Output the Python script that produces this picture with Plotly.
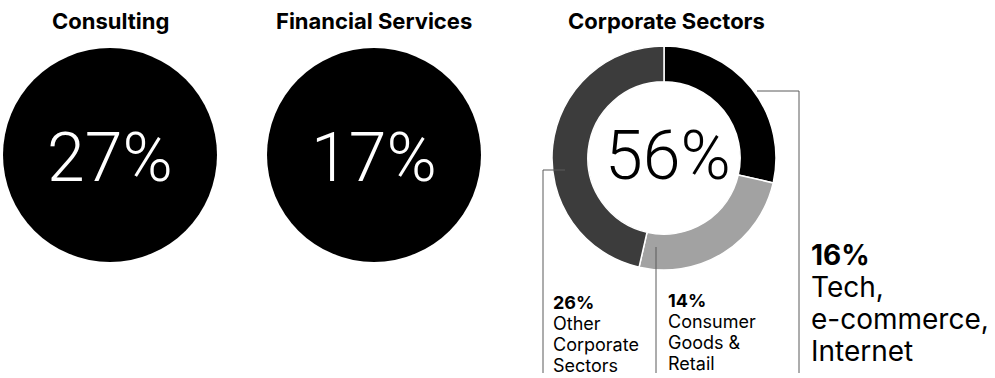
import plotly.graph_objects as go

# Shares of placements by sector
groups = ["Consulting", "Financial Services", "Corporate Sectors"]
group_shares = [27, 17, 56]

# Breakdown of the corporate share (clockwise from 12 o'clock)
corp_labels = ["Tech, e-commerce, Internet", "Consumer Goods & Retail", "Other Corporate Sectors"]
corp_shares = [16, 14, 26]
corp_colors = ["#000000", "#a2a2a2", "#3c3c3c"]

W, H = 995, 378
FONT = "Inter"
BIG_FONT = "Roboto"


def domain(cx, cy, r):
    """Pie domain in paper coords from a pixel centre and radius."""
    return dict(x=[(cx - r) / W, (cx + r) / W],
                y=[1 - (cy + r) / H, 1 - (cy - r) / H])


fig = go.Figure()

# Solid discs for the first two groups
disc_geom = [(110, 155, 107), (374, 155, 107)]
for name, share, (cx, cy, r) in zip(groups[:2], group_shares[:2], disc_geom):
    fig.add_trace(go.Pie(values=[share], labels=[name], marker=dict(colors=["#000000"], line=dict(width=0)),
                         textinfo="none", hoverinfo="label+value", sort=False,
                         domain=domain(cx, cy, r), showlegend=False))

# Donut for the corporate breakdown
dcx, dcy, dr = 664, 158, 112
fig.add_trace(go.Pie(values=corp_shares, labels=corp_labels, hole=0.68,
                     marker=dict(colors=corp_colors, line=dict(color="white", width=1.5)),
                     direction="clockwise", rotation=0, sort=False, textinfo="none",
                     hoverinfo="label+value", domain=domain(dcx, dcy, dr), showlegend=False))

# Pixel-space overlay axes for leader lines and labels
fig.update_layout(
    xaxis=dict(range=[0, W], visible=False, fixedrange=True),
    yaxis=dict(range=[H, 0], visible=False, fixedrange=True),
)

line_style = dict(color="#5a5a5a", width=1)
leaders = [
    [(757, 91), (799, 91), (799, 373)],   # tech
    [(656, 247), (656, 373)],             # consumer
    [(565, 170), (543, 170), (543, 373)], # other
]
for pts in leaders:
    path = "M " + " L ".join(f"{x},{y}" for x, y in pts)
    fig.add_shape(type="path", path=path, xref="x", yref="y", line=line_style)

fig.add_trace(go.Scatter(x=[656, 565], y=[247, 170], mode="markers",
                         marker=dict(size=3, color="#000000"), hoverinfo="skip", showlegend=False))

# Group titles
title_x = [110, 374, 666]
for name, x in zip(groups, title_x):
    fig.add_annotation(x=x, y=21, xref="x", yref="y", text=f"<b>{name}</b>", showarrow=False,
                       font=dict(family=FONT, size=22, color="#000000"), xanchor="center", yanchor="middle")

# Big percentages in the centres
centre_geom = [(110, 158, "white"), (374, 158, "white"), (668, 156, "black")]
for share, (x, y, c) in zip(group_shares, centre_geom):
    fig.add_annotation(x=x, y=y, xref="x", yref="y", text=f"{share}%", showarrow=False,
                       font=dict(family=BIG_FONT, size=68, color=c, weight=300),
                       xanchor="center", yanchor="middle")


def label_block(x, y0, step, size, pct, words):
    fig.add_annotation(x=x, y=y0, xref="x", yref="y", text=f"<b>{pct}%</b>", showarrow=False,
                       font=dict(family=FONT, size=size, color="#000000"),
                       xanchor="left", yanchor="bottom")
    for i, w in enumerate(words):
        fig.add_annotation(x=x, y=y0 + step * (i + 1), xref="x", yref="y", text=w, showarrow=False,
                           font=dict(family=FONT, size=size, color="#000000"),
                           xanchor="left", yanchor="bottom")


label_block(551, 315, 21, 18, corp_shares[2], ["Other", "Corporate", "Sectors"])
label_block(666, 313, 21, 18, corp_shares[1], ["Consumer", "Goods &", "Retail"])
label_block(809, 274, 32, 28, corp_shares[0], ["Tech,", "e-commerce,", "Internet"])

fig.update_layout(width=W, height=H, margin=dict(l=0, r=0, t=0, b=0),
                  paper_bgcolor="white", plot_bgcolor="white")

fig.write_html("out.html")
